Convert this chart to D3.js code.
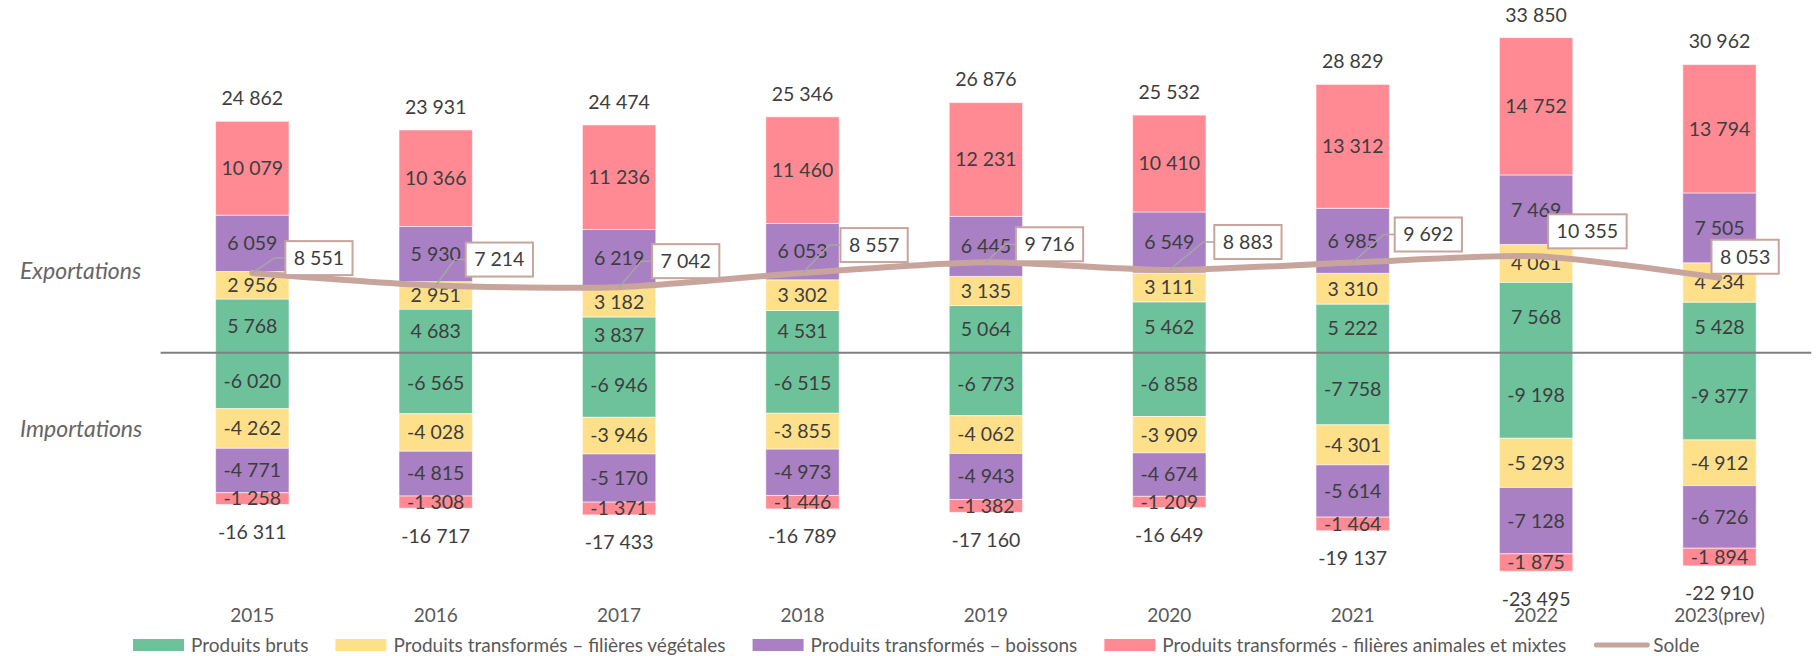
<!DOCTYPE html>
<html>
<head>
<meta charset="utf-8">
<script src="https://cdn.jsdelivr.net/npm/d3@7"></script>
<style>
  body { margin: 0; background: #fff; }
  svg { display: block; font-family: "Lato", "Noto Sans", sans-serif; }
</style>
</head>
<body>
<svg id="chart"></svg>
<script>
// values (millions EUR)
var years = ["2015", "2016", "2017", "2018", "2019", "2020", "2021", "2022", "2023(prev)"];
var categories = ["Produits bruts", "Produits transformés – filières végétales", "Produits transformés – boissons", "Produits transformés - filières animales et mixtes"];

var expBruts     = [5768, 4683, 3837, 4531, 5064, 5462, 5222, 7568, 5428];
var expVegetales = [2956, 2951, 3182, 3302, 3135, 3111, 3310, 4061, 4234];
var expBoissons  = [6059, 5930, 6219, 6053, 6445, 6549, 6985, 7469, 7505];
var expAnimales  = [10079, 10366, 11236, 11460, 12231, 10410, 13312, 14752, 13794];

var impBruts     = [-6020, -6565, -6946, -6515, -6773, -6858, -7758, -9198, -9377];
var impVegetales = [-4262, -4028, -3946, -3855, -4062, -3909, -4301, -5293, -4912];
var impBoissons  = [-4771, -4815, -5170, -4973, -4943, -4674, -5614, -7128, -6726];
var impAnimales  = [-1258, -1308, -1371, -1446, -1382, -1209, -1464, -1875, -1894];

var expTotals = [24862, 23931, 24474, 25346, 26876, 25532, 28829, 33850, 30962];
var impTotals = [-16311, -16717, -17433, -16789, -17160, -16649, -19137, -23495, -22910];
var solde     = [8551, 7214, 7042, 8557, 9716, 8883, 9692, 10355, 8053];

// layout only: where each solde label box sits relative to its point (box left, box middle)
var soldeLabelNudge = [[33, -15], [30, -26], [33, -26], [38, -28], [30, -18], [45, -28], [42, -28], [12, -25], [-8, -21]];

var colors = ["#6dc19b", "#ffe08a", "#a880c3", "#ff8a93"];
var soldeColor = "#c8a59c";

var W = 1816, H = 656;
var svg = d3.select("#chart").attr("width", W).attr("height", H);

var fr = d3.formatLocale({ decimal: ",", thousands: "\u00a0", grouping: [3], currency: ["", " €"], minus: "-" });
var fmt = fr.format(",d");

var x = d3.scaleBand()
  .domain(years)
  .range([160.6, 1811.2])
  .paddingInner(0.6)
  .paddingOuter(0.3);

var y = d3.scaleLinear()
  .domain([-25000, 35000])
  .range([585.3, 27]);

var expRows = years.map(function(yr, i) {
  return { year: yr, 0: expBruts[i], 1: expVegetales[i], 2: expBoissons[i], 3: expAnimales[i] };
});
var impRows = years.map(function(yr, i) {
  return { year: yr, 0: impBruts[i], 1: impVegetales[i], 2: impBoissons[i], 3: impAnimales[i] };
});

var stack = d3.stack().keys([0, 1, 2, 3]).offset(d3.stackOffsetDiverging);
var layers = stack(expRows).concat(stack(impRows));

var g = svg.append("g");

var layer = g.selectAll("g.layer")
  .data(layers)
  .enter().append("g")
  .attr("class", "layer")
  .style("fill", function(d) { return colors[d.key]; });

layer.selectAll("rect")
  .data(function(d) { return d; })
  .enter().append("rect")
  .attr("x", function(d) { return x(d.data.year); })
  .attr("width", x.bandwidth())
  .attr("y", function(d) { return y(Math.max(d[0], d[1])); })
  .attr("height", function(d) { return Math.abs(y(d[0]) - y(d[1])); })
  .style("stroke", "#fff")
  .style("stroke-opacity", 0.55)
  .style("stroke-width", 1);

// zero line
svg.append("line")
  .attr("x1", x.range()[0]).attr("x2", x.range()[1])
  .attr("y1", y(0)).attr("y2", y(0))
  .style("stroke", "#808080")
  .style("stroke-width", 2);

// labels inside segments (value of the segment, signed)
layer.selectAll("text")
  .data(function(d) { return d; })
  .enter().append("text")
  .attr("x", function(d) { return x(d.data.year) + x.bandwidth() / 2; })
  .attr("y", function(d) { return (y(d[0]) + y(d[1])) / 2; })
  .attr("dy", "0.35em")
  .style("text-anchor", "middle")
  .style("font-size", "19.5px")
  .style("fill", "#3d3d3d")
  .text(function(d) { return fmt(d[0] < 0 ? d[0] - d[1] : d[1] - d[0]); });

// totals
g.selectAll("text.exptot")
  .data(years)
  .enter().append("text")
  .attr("class", "exptot")
  .attr("x", function(d) { return x(d) + x.bandwidth() / 2; })
  .attr("y", function(d, i) { return y(expTotals[i]) - 23; })
  .attr("dy", "0.35em")
  .style("text-anchor", "middle")
  .style("font-size", "19.5px")
  .style("fill", "#3d3d3d")
  .text(function(d, i) { return fmt(expTotals[i]); });

g.selectAll("text.imptot")
  .data(years)
  .enter().append("text")
  .attr("class", "imptot")
  .attr("x", function(d) { return x(d) + x.bandwidth() / 2; })
  .attr("y", function(d, i) { return y(impTotals[i]) + 27.5; })
  .attr("dy", "0.35em")
  .style("text-anchor", "middle")
  .style("font-size", "19.5px")
  .style("fill", "#3d3d3d")
  .text(function(d, i) { return fmt(impTotals[i]); });

// solde line
var line = d3.line()
  .x(function(d, i) { return x(years[i]) + x.bandwidth() / 2; })
  .y(function(d) { return y(d); })
  .curve(d3.curveCardinal.tension(0.3));

svg.append("path")
  .attr("d", line(solde))
  .style("fill", "none")
  .style("stroke", soldeColor)
  .style("stroke-width", 6)
  .style("stroke-linejoin", "round")
  .style("stroke-linecap", "round");

// solde labels
var sl = svg.selectAll("g.solde")
  .data(solde)
  .enter().append("g")
  .attr("class", "solde");

sl.each(function(v, i) {
  var s = d3.select(this);
  var px = x(years[i]) + x.bandwidth() / 2, py = y(v);
  var bx = px + soldeLabelNudge[i][0], by = py + soldeLabelNudge[i][1];
  var t = s.append("text")
    .attr("y", by)
    .attr("dy", "0.35em")
    .style("font-size", "19.5px")
    .style("fill", "#3d3d3d")
    .text(fmt(v));
  var tw = t.node().getComputedTextLength();
  var bw = tw + 17, bh = 34;
  if (soldeLabelNudge[i][0] > 15) {
    s.insert("polyline", "text")
      .attr("points", [[px, py], [bx - 11, by], [bx, by]].map(function(p) { return p.join(","); }).join(" "))
      .style("fill", "none")
      .style("stroke", "#a6a6a6")
      .style("stroke-width", 1.5);
  }
  s.insert("rect", "text")
    .attr("x", bx).attr("y", by - bh / 2)
    .attr("width", bw).attr("height", bh)
    .style("fill", "#fff")
    .style("stroke", soldeColor)
    .style("stroke-width", 2);
  t.attr("x", bx + bw / 2).style("text-anchor", "middle");
});

// side captions
svg.append("text")
  .attr("x", 20).attr("y", y(0) - 82).attr("dy", "0.35em")
  .style("font-size", "23px").style("font-style", "italic").style("fill", "#666")
  .text("Exportations");
svg.append("text")
  .attr("x", 20).attr("y", y(0) + 76).attr("dy", "0.35em")
  .style("font-size", "23px").style("font-style", "italic").style("fill", "#666")
  .text("Importations");

// category axis
var xAxis = d3.axisBottom(x).tickSize(0).tickPadding(0);
var ax = svg.append("g")
  .attr("transform", "translate(0,603)")
  .call(xAxis);
ax.select(".domain").remove();
ax.selectAll("text")
  .attr("dy", "0.35em")
  .attr("y", 12)
  .style("font-family", "Lato, 'Noto Sans', sans-serif")
  .style("font-size", "19px")
  .style("fill", "#595959");

// legend
var legend = svg.append("g").attr("transform", "translate(0,645)");
var lx = 133;
categories.forEach(function(c, i) {
  legend.append("rect")
    .attr("x", lx).attr("y", -6).attr("width", 51).attr("height", 12)
    .style("fill", colors[i]);
  var t = legend.append("text")
    .attr("x", lx + 58).attr("dy", "0.35em")
    .style("font-size", "19px").style("fill", "#595959")
    .text(c);
  lx += 58 + t.node().getComputedTextLength() + 27;
});
legend.append("line")
  .attr("x1", lx + 3).attr("x2", lx + 54)
  .style("stroke", soldeColor).style("stroke-width", 5).style("stroke-linecap", "round");
legend.append("text")
  .attr("x", lx + 60).attr("dy", "0.35em")
  .style("font-size", "19px").style("fill", "#595959")
  .text("Solde");
</script>
</body>
</html>
